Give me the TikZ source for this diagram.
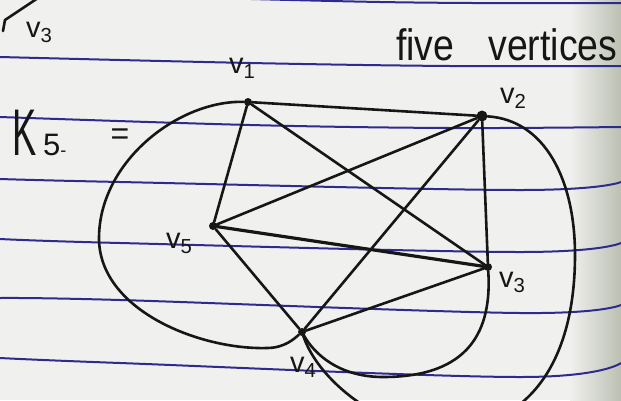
\documentclass[tikz,border=0pt]{standalone}
\usepackage{graphicx}
\usepackage{fontspec}
\setmainfont{Liberation Sans}
\definecolor{paper}{HTML}{F0F0EE}
\definecolor{ink}{HTML}{161616}
\definecolor{rulecol}{HTML}{2E2A8E}
\definecolor{edgecol}{HTML}{BCC0B2}
\tikzset{
  pen/.style={ink, line width=2.6pt, line cap=round, line join=round},
  ruled/.style={rulecol, line width=2pt},
  vert/.style={circle, fill=ink, inner sep=0pt, minimum size=8pt},
  hand/.style={ink, inner sep=0pt, anchor=base west, font=\fontsize{29}{34}\selectfont},
}
\begin{document}
\begin{tikzpicture}[x=1pt,y=-1pt]
\useasboundingbox (0,0) rectangle (621,400);
\clip (0,0) rectangle (621,400);
\fill[paper] (0,0) rectangle (621,400);
\shade[left color=paper, right color=edgecol] (570,0) rectangle (621,400);
% ruled notebook lines
\draw[ruled] plot[smooth, tension=0.6] coordinates {(0,-8) (380,2) (621,3)};
\draw[ruled] plot[smooth, tension=0.6] coordinates {(0,57) (250,63) (450,66) (621,66)};
\draw[ruled] plot[smooth, tension=0.6] coordinates {(0,117) (250,125) (450,128) (621,127)};
\draw[ruled] plot[smooth, tension=0.6] coordinates {(0,179) (120,182) (520,190) (621,182)};
\draw[ruled] plot[smooth, tension=0.6] coordinates {(0,239) (120,243) (520,252) (621,243)};
\draw[ruled] plot[smooth, tension=0.6] coordinates {(0,298) (120,300) (520,313) (621,305)};
\draw[ruled] plot[smooth, tension=0.6] coordinates {(0,358) (120,363) (520,377) (621,363)};
% vertices
\node[vert] (v1) at (248,102) {};
\node[vert, minimum size=11pt] (v2) at (482,116) {};
\node[vert] (v5) at (213,226) {};
\node[vert] (v3) at (488,267) {};
\node[vert] (v4) at (302,332) {};
% straight edges
\draw[pen] (v1) -- (v2);
\draw[pen] (v1) -- (v5);
\draw[pen] (v1) -- (v3);
\draw[pen] (v2) -- (v5);
\draw[pen] (v2) -- (v4);
\draw[pen] (v2) -- (v3);
\draw[pen, line width=3.2pt] (v5) -- (v3);
\draw[pen] (v5) -- (v4);
\draw[pen] (v4) -- (v3);
% curved edges
\draw[pen] (v1) .. controls (180,100) and (100,160) .. (99,237)
  .. controls (98,310) and (200,350) .. (267,348)
  .. controls (285,348) and (295,338) .. (v4);
\draw[pen] (v3) .. controls (492,330) and (470,377) .. (383,377)
  .. controls (340,377) and (315,355) .. (v4);
\draw[pen] (v2) .. controls (545,120) and (575,180) .. (575,255)
  .. controls (575,360) and (530,430) .. (440,430)
  .. controls (380,430) and (318,380) .. (v4);
% labels
\node[hand] (l1) at (229,73) {v\textsubscript{1}};
\node[hand] (l2) at (500,103) {v\textsubscript{2}};
\node[hand] (l5) at (166,248) {v\textsubscript{5}};
\node[hand] (l3) at (499,287) {v\textsubscript{3}};
\node[hand] (l4) at (290,372) {v\textsubscript{4}};
\node[hand] (lt) at (26,37) {v\textsubscript{3}};
\draw[pen] (38,-2) -- (5,20) -- (3,31);
% K5 =
\node[ink, anchor=base west, inner sep=0pt, font=\fontsize{66}{70}\selectfont] (kk) at (12,155) {\scalebox{0.55}[1]{K}};
\node[ink, anchor=base west, inner sep=0pt, font=\fontsize{31}{36}\selectfont] (k5) at (43,155) {5\raisebox{-1pt}{\fontsize{18}{18}\selectfont -}};
\node[ink, inner sep=0pt, font=\fontsize{32}{36}\selectfont] (eq) at (120,137) {=};
% title
\node[ink, anchor=base west, inner sep=0pt, font=\fontsize{44}{50}\selectfont] (title) at (396,60) {\scalebox{0.85}[1]{five\hspace{40pt}vertices}};
\end{tikzpicture}
\end{document}
